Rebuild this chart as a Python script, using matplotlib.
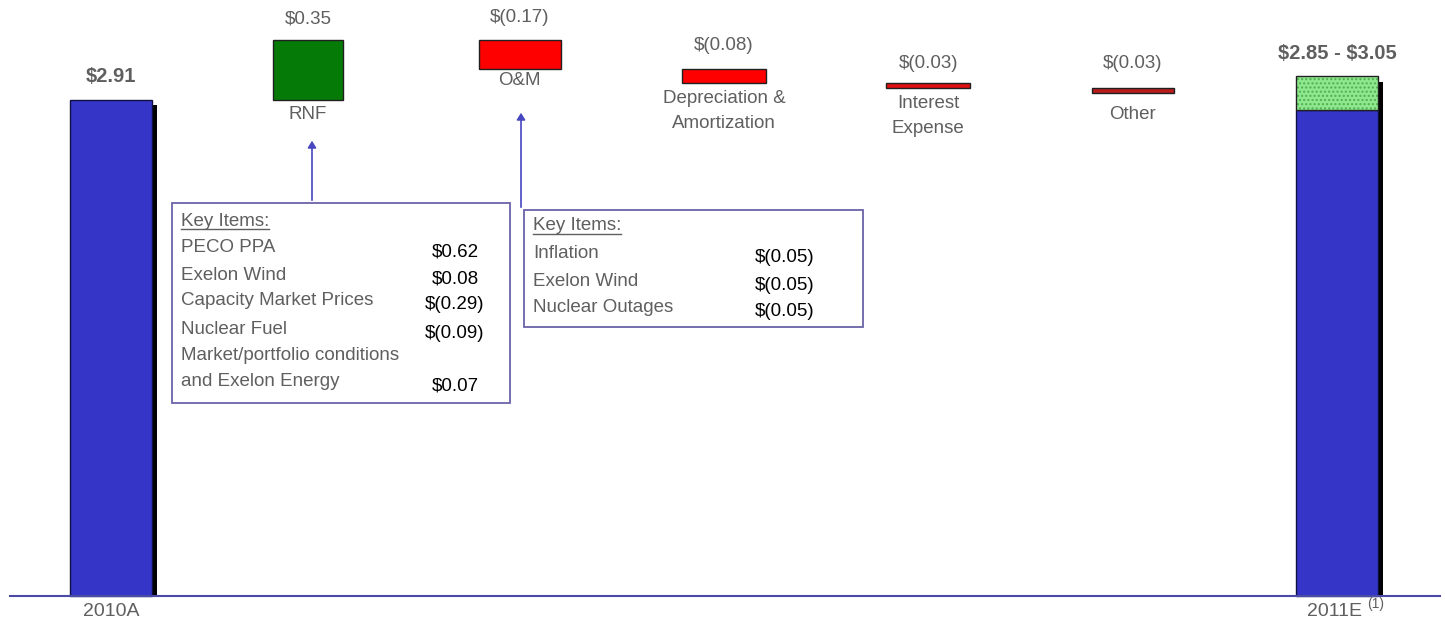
import numpy as np
import matplotlib
matplotlib.use('Agg')
import matplotlib.pyplot as plt
from matplotlib.patches import Rectangle, FancyArrowPatch

plt.rcParams['font.family'] = ['Liberation Sans', 'DejaVu Sans']

# Data: EPS walk 2010A -> 2011E
categories = ['2010A', 'RNF', 'O&M', 'Depreciation &\nAmortization',
              'Interest\nExpense', 'Other', '2011E']
start_eps = 2.91
changes = [0.35, -0.17, -0.08, -0.03, -0.03]
guidance_low = 2.85
guidance_high = 3.05
value_labels = ['\\$2.91', '\\$0.35', '\\$(0.17)', '\\$(0.08)', '\\$(0.03)', '\\$(0.03)',
                '\\$2.85 - \\$3.05']

rnf_items = ['PECO PPA', 'Exelon Wind', 'Capacity Market Prices', 'Nuclear Fuel',
             'Market/portfolio conditions\nand Exelon Energy']
rnf_values = ['$0.62', '$0.08', '$(0.29)', '$(0.09)', '$0.07']
om_items = ['Inflation', 'Exelon Wind', 'Nuclear Outages']
om_values = ['$(0.05)', '$(0.05)', '$(0.05)']

# Layout
W, H = 1445, 628
x_pos = [0, 0.965, 2, 3, 4, 5, 6]
widths = [0.40, 0.34, 0.40, 0.41, 0.41, 0.40, 0.40]
step_colors = ['#067a06', '#ff0000', '#ff0000', '#e01010', '#b81c1c']
blue = '#3535c8'
gray = '#5f5f5f'
fs = 13.5

px_x = 204.33   # pixels per category
px_y = 170.4    # pixels per dollar


def fx(p):
    return p / W


def fy(p):
    return 1 - p / H


fig = plt.figure(figsize=(14.45, 6.28), dpi=100)
ax = fig.add_axes([0, 0, 1, 1])
ax.set_xlim(-111 / px_x, (W - 111) / px_x)
ax.set_ylim(-(H - 596) / px_y, 596 / px_y)
ax.axis('off')

# running totals
levels = np.concatenate([[start_eps], start_eps + np.cumsum(changes)])
dx = 5 / px_x
dy = 5 / px_y

# 2010A bar with shadow
ax.bar(x_pos[0] + dx, start_eps - dy, width=widths[0], color='black', zorder=1)
ax.bar(x_pos[0], start_eps, width=widths[0], color=blue, edgecolor='#101040', lw=1, zorder=2)

# step bars
for i, ch in enumerate(changes):
    lo = min(levels[i], levels[i + 1])
    ax.bar(x_pos[i + 1], abs(ch), width=widths[i + 1], bottom=lo,
           color=step_colors[i], edgecolor='#202020', lw=1, zorder=2)

# 2011E bar: blue to low end, dotted green for the range
ax.bar(x_pos[6] + dx, guidance_high - 1.2 * dy, width=widths[6], color='black', zorder=1)
ax.bar(x_pos[6], guidance_low, width=widths[6], color=blue, edgecolor='#101040', lw=1, zorder=2)
ax.bar(x_pos[6], guidance_high - guidance_low, width=widths[6], bottom=guidance_low,
       color='#8fe88f', edgecolor='#4fb04f', hatch='....', lw=0, zorder=2)
ax.bar(x_pos[6], guidance_high - guidance_low, width=widths[6], bottom=guidance_low,
       fill=False, edgecolor='#202020', lw=1, zorder=3)

# value labels above bars
tops = [start_eps] + [max(levels[i], levels[i + 1]) for i in range(len(changes))] + [guidance_high]
label_off = [24, 21, 23, 24, 20, 25, 23]
for i, (t, lab) in enumerate(zip(tops, value_labels)):
    bold = i in (0, 6)
    ax.annotate(lab, (x_pos[i], t), xytext=(0, label_off[i]), textcoords='offset pixels',
                ha='center', va='center', fontsize=14.5 if bold else fs,
                fontweight='bold' if bold else 'normal', color=gray)

# category labels under the step bars
name_off = [14, 11, 28, 28, 21]
for i in range(len(changes)):
    bot = min(levels[i], levels[i + 1])
    ax.annotate(categories[i + 1], (x_pos[i + 1], bot), xytext=(0, -name_off[i]),
                textcoords='offset pixels', ha='center', va='center', fontsize=fs,
                color=gray, linespacing=1.6)

# baseline and year labels
ax.plot([fx(10), fx(1440)], [fy(596), fy(596)], transform=fig.transFigure,
        color='#4a4aa8', lw=1.5, zorder=4)
fig.text(fx(111), fy(612), categories[0], ha='center', va='center', fontsize=14, color=gray)
fig.text(fx(1334), fy(612), categories[6], ha='center', va='center', fontsize=14, color=gray)
fig.text(fx(1376), fy(604), '(1)', ha='center', va='center', fontsize=10, color=gray)

# callout boxes
box_col = '#6a64a8'
arrow_col = '#4646c0'


def callout(x0, y0, x1, y1, ax_x, tip_y, items, values, val_x, row_y):
    fig.patches.append(Rectangle((fx(x0), fy(y1)), fx(x1 - x0), (y1 - y0) / H,
                                 transform=fig.transFigure, fill=False,
                                 edgecolor=box_col, lw=1.3))
    fig.add_artist(FancyArrowPatch(
        (fx(ax_x), fy(y0)), (fx(ax_x), fy(tip_y)), transform=fig.transFigure,
        arrowstyle='-|>,head_length=4,head_width=2.5', color=arrow_col, lw=1.2))
    tx = x0 + 9
    fig.text(fx(tx), fy(row_y[0]), 'Key Items:', ha='left', va='center', fontsize=fs, color=gray)
    fig.add_artist(plt.Line2D([fx(tx), fx(tx + 88)], [fy(row_y[0] + 8)] * 2,
                              transform=fig.transFigure, color=gray, lw=1))
    r = 1
    for it, v in zip(items, values):
        nlines = it.count('\n') + 1
        for k, line in enumerate(it.split('\n')):
            fig.text(fx(tx), fy(row_y[r + k]), line, ha='left', va='center',
                     fontsize=fs, color=gray)
        vy = row_y[r + nlines - 1] + 4
        fig.text(fx(val_x), fy(vy), v, ha='center', va='center', fontsize=fs, color='black')
        r += nlines


callout(172, 203, 510, 403, 312, 138, rnf_items, rnf_values, 455,
        [221, 248, 275, 301, 329, 356, 382])
callout(524, 210, 863, 327, 521, 110, om_items, om_values, 785,
        [226, 253, 281, 308])

fig.savefig('out.png', dpi=100)
